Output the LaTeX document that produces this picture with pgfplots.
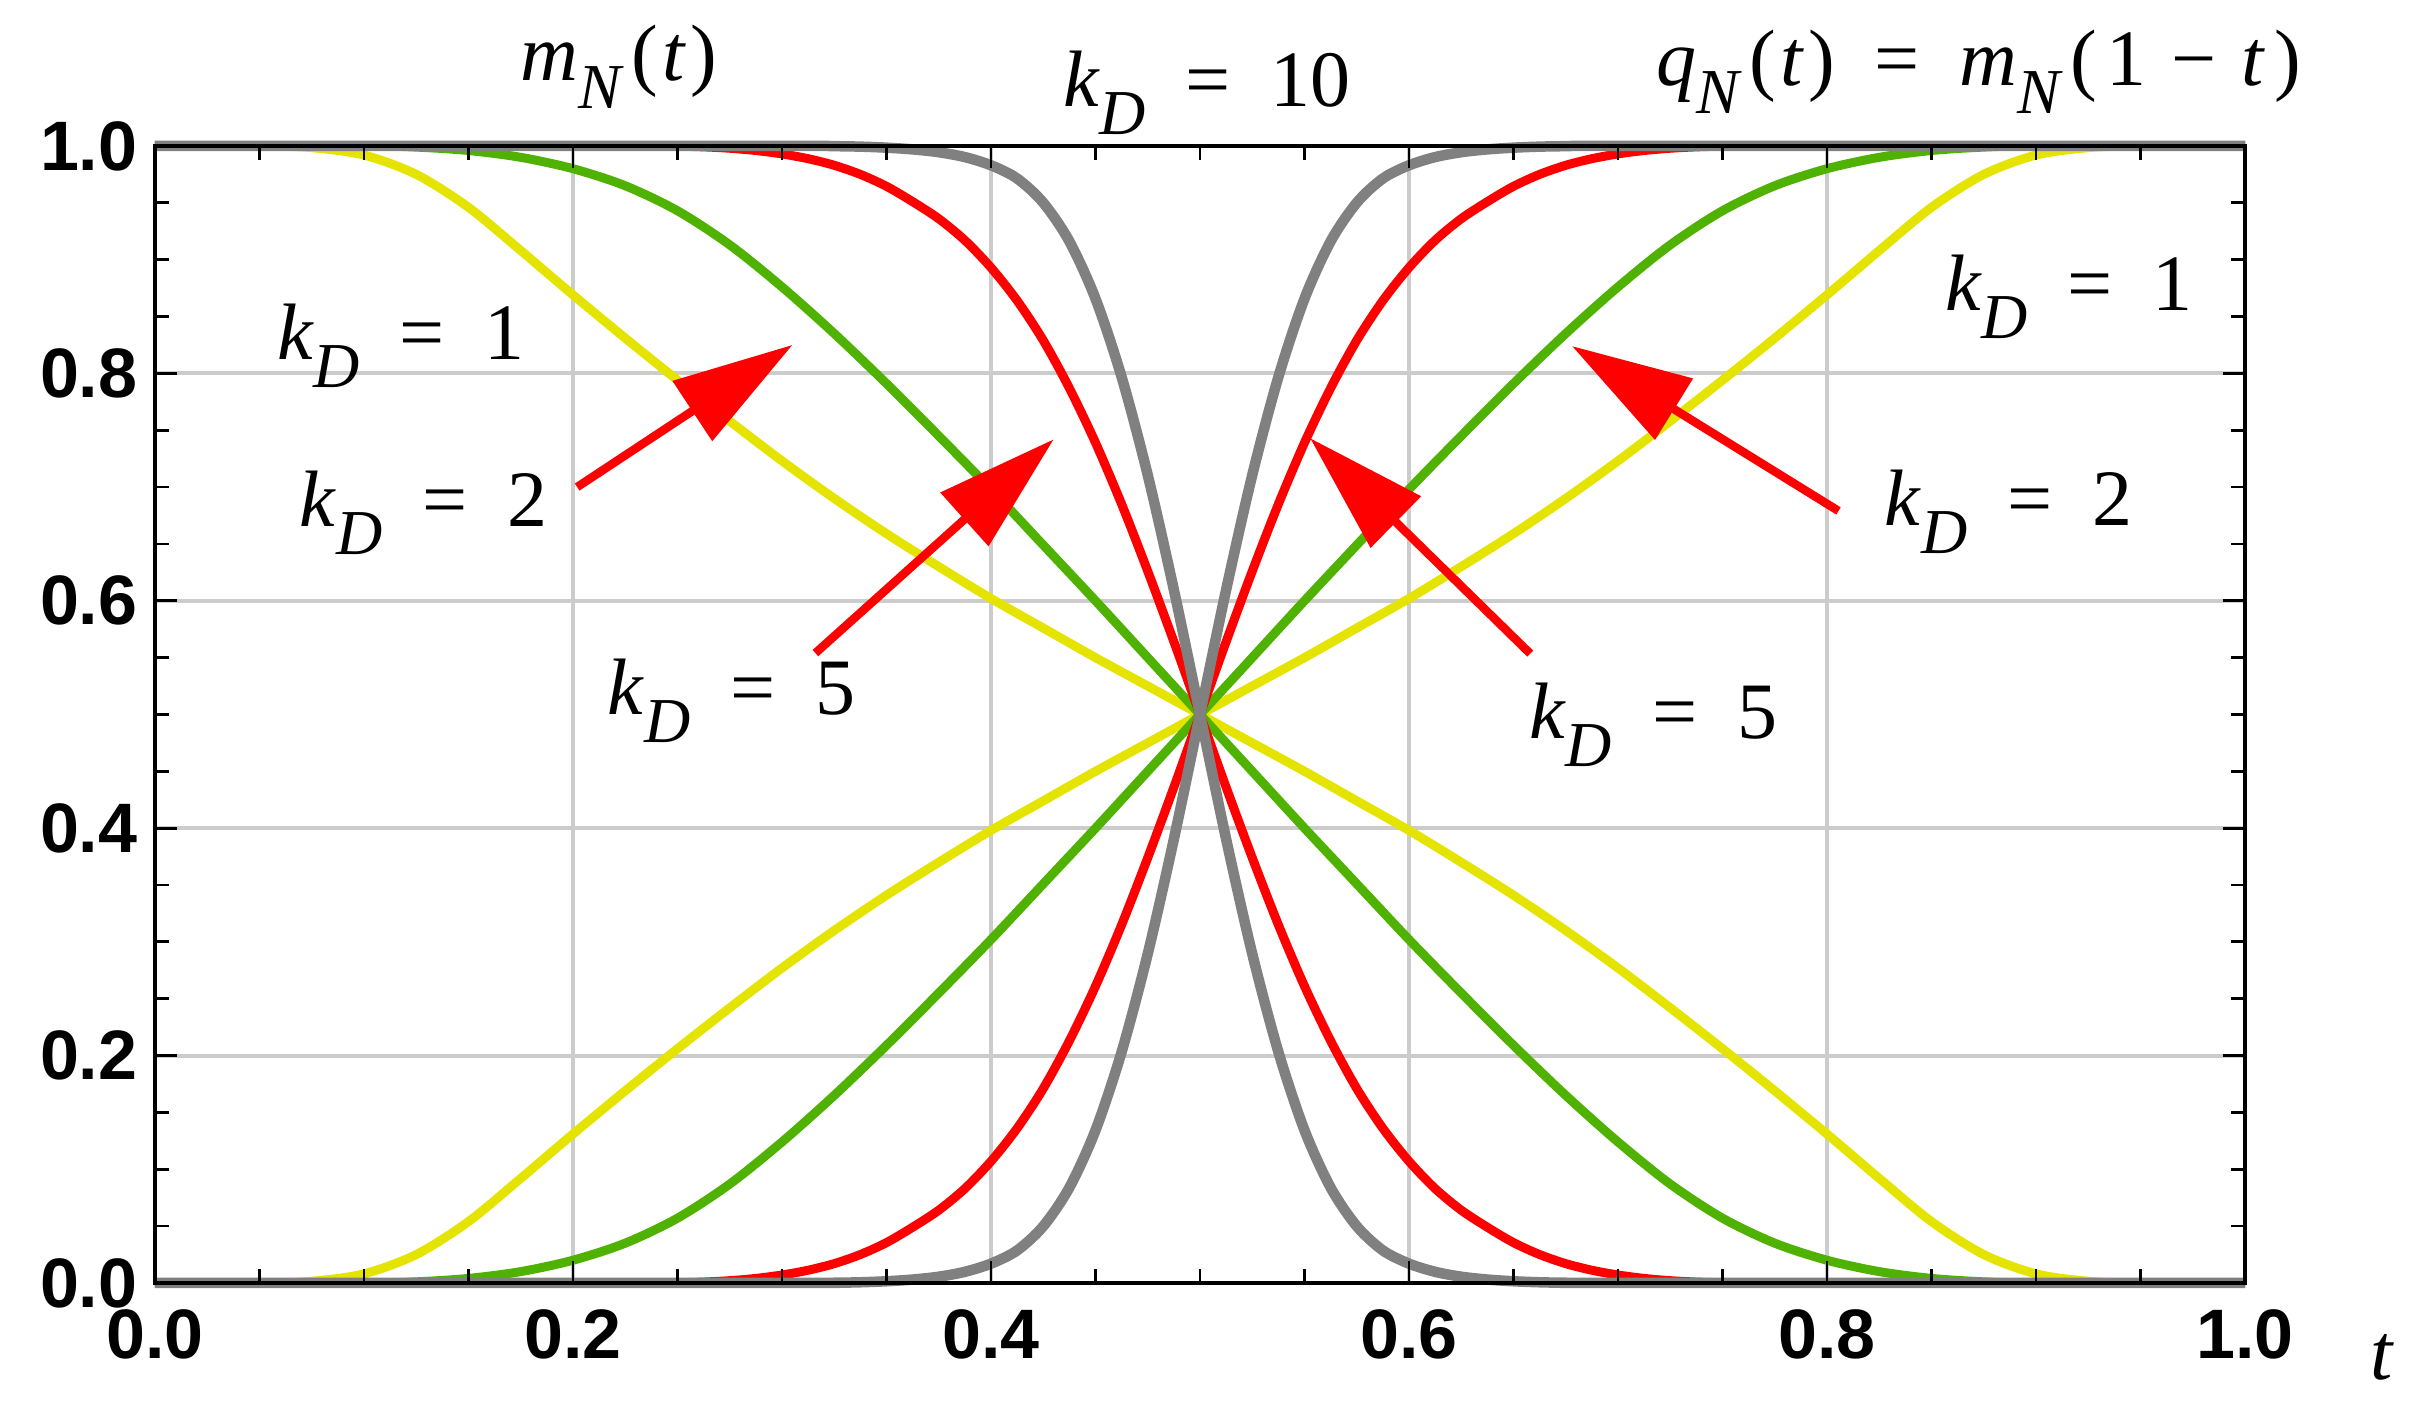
\documentclass[border=0pt]{standalone}
\usepackage{fontspec}
\setmainfont{Liberation Serif}
\newfontfamily\tickfont{Liberation Sans}
\usepackage{pgfplots}
\pgfplotsset{compat=1.18}
\usepackage{pgfplotstable}
\usetikzlibrary{arrows.meta}

\definecolor{cy}{RGB}{228,228,0}
\definecolor{cg}{RGB}{80,178,0}
\definecolor{cr}{RGB}{255,0,0}
\definecolor{ck}{RGB}{128,128,128}
\definecolor{cgrid}{RGB}{204,204,204}

\newcommand{\sub}[1]{\raisebox{-5.6pt}{\fontsize{12.8pt}{13pt}\selectfont\textit{#1}}}
\newcommand{\kD}[1]{\textit{k}\sub{D}\hspace{8pt}=\hspace{8pt}#1}
\newcommand{\fn}[2]{\textit{#1}\sub{N}\kern1.5pt(\kern0.8pt#2\kern0.8pt)}

% k_D = 1
\pgfplotstableread{
t q m
0 0 1
0.05 0 1
0.075 0.0015 0.9985
0.1 0.008 0.992
0.125 0.025 0.975
0.15 0.054 0.946
0.175 0.092 0.908
0.2 0.131 0.869
0.225 0.169 0.831
0.25 0.206 0.794
0.275 0.242 0.758
0.3 0.277 0.723
0.325 0.31 0.69
0.35 0.341 0.659
0.375 0.37 0.63
0.4 0.398 0.602
0.425 0.424 0.576
0.45 0.45 0.55
0.475 0.475 0.525
0.5 0.5 0.5
0.525 0.525 0.475
0.55 0.55 0.45
0.575 0.576 0.424
0.6 0.602 0.398
0.625 0.63 0.37
0.65 0.659 0.341
0.675 0.69 0.31
0.7 0.723 0.277
0.725 0.758 0.242
0.75 0.794 0.206
0.775 0.831 0.169
0.8 0.869 0.131
0.825 0.908 0.092
0.85 0.946 0.054
0.875 0.975 0.025
0.9 0.992 0.008
0.925 0.9985 0.0015
0.95 1 0
1 1 0
}\ytab

% k_D = 2
\pgfplotstableread{
t q m
0 0 1
0.1 0 1
0.125 0.001 0.999
0.15 0.004 0.996
0.175 0.010 0.990
0.2 0.020 0.980
0.225 0.035 0.965
0.25 0.057 0.943
0.275 0.087 0.913
0.3 0.124 0.876
0.325 0.165 0.835
0.35 0.209 0.791
0.375 0.255 0.745
0.4 0.302 0.698
0.425 0.351 0.649
0.45 0.4 0.6
0.475 0.45 0.55
0.5 0.5 0.5
0.525 0.55 0.45
0.55 0.6 0.4
0.575 0.649 0.351
0.6 0.698 0.302
0.625 0.745 0.255
0.65 0.791 0.209
0.675 0.835 0.165
0.7 0.876 0.124
0.725 0.913 0.087
0.75 0.943 0.057
0.775 0.965 0.035
0.8 0.980 0.020
0.825 0.990 0.010
0.85 0.996 0.004
0.875 0.999 0.001
0.9 1 0
1 1 0
}\gtab

% k_D = 5
\pgfplotstableread{
t q m
0 0 1
0.2375 0 1
0.25 0.0002 0.9998
0.2625 0.0008 0.9992
0.275 0.002 0.998
0.2875 0.004 0.996
0.3 0.007 0.993
0.3125 0.0112 0.9888
0.325 0.017 0.983
0.3375 0.025 0.975
0.35 0.0355 0.9645
0.3625 0.049 0.951
0.375 0.064 0.936
0.3875 0.083 0.917
0.4 0.107 0.893
0.4125 0.136 0.864
0.425 0.171 0.829
0.4375 0.213 0.787
0.45 0.261 0.739
0.4625 0.315 0.685
0.475 0.374 0.626
0.4875 0.436 0.564
0.5 0.5 0.5
0.5125 0.564 0.436
0.525 0.626 0.374
0.5375 0.685 0.315
0.55 0.739 0.261
0.5625 0.787 0.213
0.575 0.829 0.171
0.5875 0.864 0.136
0.6 0.893 0.107
0.6125 0.917 0.083
0.625 0.936 0.064
0.6375 0.951 0.049
0.65 0.9645 0.0355
0.6625 0.975 0.025
0.675 0.983 0.017
0.6875 0.9888 0.0112
0.7 0.993 0.007
0.7125 0.996 0.004
0.725 0.998 0.002
0.7375 0.9992 0.0008
0.75 0.9998 0.0002
0.7625 1 0
1 1 0
}\rtab

% k_D = 10
\pgfplotstableread{
t q m
0 0 1
0.3 0 1
0.325 0.0002 0.9998
0.3375 0.0006 0.9994
0.35 0.0015 0.9985
0.3625 0.003 0.997
0.375 0.0055 0.9945
0.3875 0.0098 0.9902
0.4 0.017 0.983
0.4125 0.0286 0.9714
0.425 0.0499 0.9501
0.4375 0.0839 0.9161
0.45 0.1343 0.8657
0.4625 0.2032 0.7968
0.475 0.2895 0.7105
0.4875 0.3904 0.6096
0.5 0.5 0.5
0.5125 0.6096 0.3904
0.525 0.7105 0.2895
0.5375 0.7968 0.2032
0.55 0.8657 0.1343
0.5625 0.9161 0.0839
0.575 0.9501 0.0499
0.5875 0.9714 0.0286
0.6 0.983 0.017
0.6125 0.9902 0.0098
0.625 0.9945 0.0055
0.6375 0.997 0.003
0.65 0.9985 0.0015
0.6625 0.9994 0.0006
0.675 0.9998 0.0002
0.7 1 0
1 1 0
}\ktab

\begin{document}
\begin{tikzpicture}
\useasboundingbox (-31pt,-25.8pt) rectangle (452pt,256.6pt);
\begin{axis}[
  at={(0,0)}, anchor=south west,
  scale only axis, width=418pt, height=227.4pt,
  xmin=0, xmax=1, ymin=0, ymax=1,
  clip=false, axis on top,
  xtick={0,0.2,0.4,0.6,0.8,1},
  ytick={0,0.2,0.4,0.6,0.8,1},
  xticklabels={0.0,0.2,0.4,0.6,0.8,1.0},
  yticklabels={0.0,0.2,0.4,0.6,0.8,1.0},
  minor x tick num=3, minor y tick num=3,
  tick align=inside,
  major tick length=4.4pt, minor tick length=2.8pt,
  tick style={black, line width=0.55pt},
  axis line style={black, line width=0.8pt},
  tick label style={font=\tickfont\bfseries\fontsize{14pt}{14pt}\selectfont},
  xticklabel style={yshift=-1.8pt},
]
\pgfplotsinvokeforeach{0.2,0.4,0.6,0.8}{
  \draw[cgrid, line width=0.8pt] (axis cs:#1,0) -- (axis cs:#1,1);
  \draw[cgrid, line width=0.8pt] (axis cs:0,#1) -- (axis cs:1,#1);
}
\addplot[cy, line width=1.8pt, smooth, line join=round] table[x=t, y=m] {\ytab};
\addplot[cy, line width=1.8pt, smooth, line join=round] table[x=t, y=q] {\ytab};
\addplot[cg, line width=1.8pt, smooth, line join=round] table[x=t, y=m] {\gtab};
\addplot[cg, line width=1.8pt, smooth, line join=round] table[x=t, y=q] {\gtab};
\addplot[cr, line width=1.8pt, smooth, line join=round] table[x=t, y=m] {\rtab};
\addplot[cr, line width=1.8pt, smooth, line join=round] table[x=t, y=q] {\rtab};
\addplot[ck, line width=2.1pt, smooth, line join=round] table[x=t, y=m] {\ktab};
\addplot[ck, line width=2.1pt, smooth, line join=round] table[x=t, y=q] {\ktab};

\draw[cr, line width=1.7pt, -{Triangle[length=24pt,width=14pt]}] (axis cs:0.202,0.700) -- (axis cs:0.305,0.825);
\draw[cr, line width=1.7pt, -{Triangle[length=24pt,width=14pt]}] (axis cs:0.316,0.554) -- (axis cs:0.430,0.742);
\draw[cr, line width=1.7pt, -{Triangle[length=24pt,width=14pt]}] (axis cs:0.8055,0.679) -- (axis cs:0.678,0.824);
\draw[cr, line width=1.7pt, -{Triangle[length=24pt,width=14pt]}] (axis cs:0.658,0.5535) -- (axis cs:0.5527,0.743);

\begin{scope}[every node/.style={inner sep=0pt, anchor=base west, font=\fontsize{16pt}{18pt}\selectfont}]
\node at (axis cs:0.0579,0.8118) {\kD{1}};
\node at (axis cs:0.0689,0.665) {\kD{2}};
\node at (axis cs:0.216,0.50) {\kD{5}};
\node at (axis cs:0.856,0.855) {\kD{1}};
\node at (axis cs:0.827,0.666) {\kD{2}};
\node at (axis cs:0.657,0.479) {\kD{5}};
\node at (axis cs:0.434,1.035) {\kD{10}};
\node at (axis cs:0.1746,1.058) {\fn{m}{\textit{t}}};
\node at (axis cs:0.718,1.0536) {\fn{q}{\textit{t}}\hspace{8pt}=\hspace{8pt}\textit{m}\sub{N}\kern1.5pt(\kern1.8pt1\kern5pt−\kern5pt\textit{t}\kern1.8pt)};
\node at (axis cs:1.0598,-0.0853) {\textit{t}};
\end{scope}
\end{axis}
\end{tikzpicture}
\end{document}
